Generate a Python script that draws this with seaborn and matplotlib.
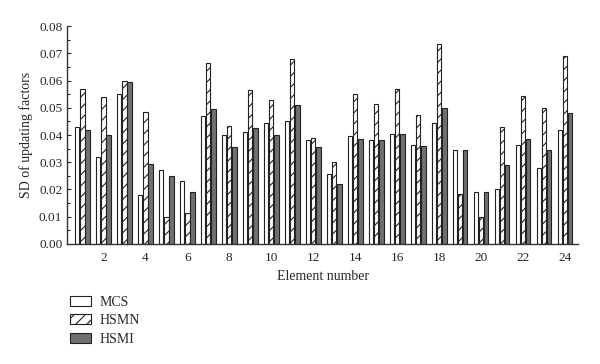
import matplotlib
matplotlib.use('Agg')
import matplotlib.pyplot as plt
import pandas as pd
import seaborn as sns

# Data
elements = list(range(1, 25))
mcs = [0.043, 0.032, 0.055, 0.018, 0.027, 0.023, 0.047, 0.040, 0.041, 0.0445, 0.045, 0.038,
       0.0255, 0.0395, 0.038, 0.0405, 0.0365, 0.0445, 0.0345, 0.019, 0.020, 0.0365, 0.028, 0.042]
hsmn = [0.057, 0.054, 0.060, 0.0485, 0.010, 0.0115, 0.0665, 0.0435, 0.0565, 0.053, 0.068, 0.039,
        0.030, 0.055, 0.0515, 0.057, 0.0475, 0.0735, 0.0185, 0.0097, 0.043, 0.0545, 0.050, 0.069]
hsmi = [0.042, 0.040, 0.0595, 0.0295, 0.025, 0.019, 0.0495, 0.0355, 0.0425, 0.040, 0.051, 0.0355,
        0.022, 0.0385, 0.038, 0.0405, 0.036, 0.050, 0.0345, 0.019, 0.029, 0.0385, 0.0345, 0.048]
methods = ['MCS', 'HSMN', 'HSMI']

df = pd.DataFrame({
    'element': elements * 3,
    'method': [m for m in methods for _ in elements],
    'sd': mcs + hsmn + hsmi,
})

sns.set_style('ticks')
plt.rcParams['font.family'] = ['Liberation Serif', 'DejaVu Serif']
plt.rcParams['hatch.linewidth'] = 0.8

fig = plt.figure(figsize=(6, 3.64), dpi=100)
ax = fig.add_axes([0.112, 0.33, 0.852, 0.598])

palette = {'MCS': 'white', 'HSMN': 'white', 'HSMI': '#707070'}
sns.barplot(data=df, x='element', y='sd', hue='method', hue_order=methods,
            palette=palette, width=0.74, gap=0.12, edgecolor='#222222', linewidth=0.8,
            saturation=1, legend=False, ax=ax)

for patch in ax.containers[1]:
    patch.set_hatch('///')

ax.set_ylim(0, 0.08)
ax.set_xlim(-0.72, 23.64)
ax.set_yticks([i * 0.01 for i in range(9)])
ax.set_yticklabels([f'{i * 0.01:.2f}' for i in range(9)], fontsize=9.5)
ax.set_yticks([i * 0.01 + 0.005 for i in range(8)], minor=True)
ax.set_xticks(range(1, 24, 2))
ax.set_xticklabels([str(e) for e in elements[1::2]], fontsize=9.5)
ax.tick_params(axis='y', which='both', direction='in', length=3, width=0.8)
ax.tick_params(axis='y', which='minor', length=2)
ax.tick_params(axis='x', length=0, pad=6)
ax.set_xlabel('Element number', fontsize=10)
ax.set_ylabel('SD of updating factors', fontsize=10)
sns.despine(ax=ax)
for s in ['left', 'bottom']:
    ax.spines[s].set_linewidth(1.0)
    ax.spines[s].set_color('#333333')

fig.legend(handles=list(ax.containers), labels=methods, loc='upper left',
           bbox_to_anchor=(0.108, 0.203), frameon=False, fontsize=10,
           handlelength=1.5, handleheight=0.7, labelspacing=0.4, handletextpad=0.6,
           borderaxespad=0)

fig.savefig('out.png', dpi=100)
